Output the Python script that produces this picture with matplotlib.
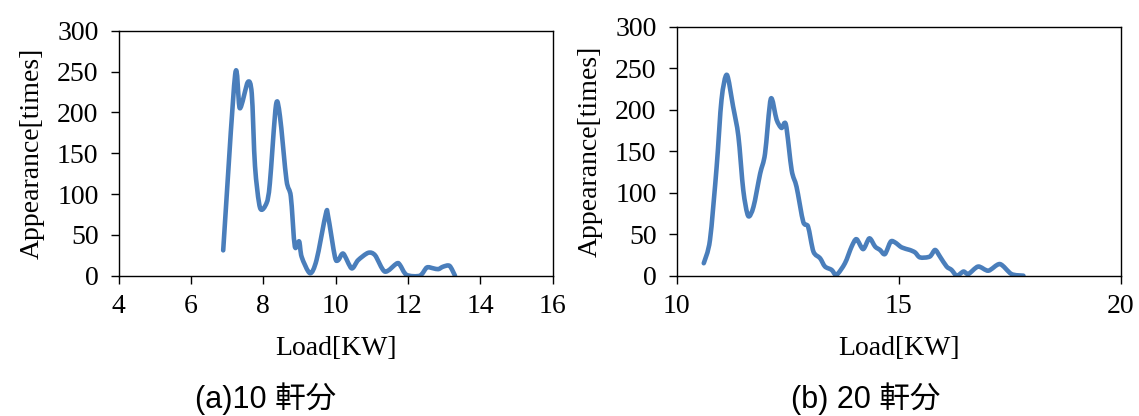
import matplotlib
matplotlib.use("Agg")
import matplotlib.pyplot as plt
import numpy as np
from matplotlib.path import Path
from matplotlib.patches import PathPatch

# Load histogram, 10 households
load_10 = [6.89, 7.22, 7.35, 7.57, 7.68, 7.77, 7.91, 8.09, 8.18, 8.35, 8.46, 8.64,
           8.76, 8.87, 8.99, 9.06, 9.29, 9.47, 9.73, 9.79, 9.98, 10.07, 10.21, 10.44,
           10.62, 10.90, 11.09, 11.36, 11.69, 11.78, 11.96, 12.33, 12.52, 12.70, 12.84,
           12.97, 13.15, 13.30]
count_10 = [31, 246, 205, 237, 223, 134, 83, 89, 113, 209, 195, 117,
            97, 36, 42, 23, 3, 19, 76, 73, 23, 19, 27, 9,
            19, 28, 25, 5, 15, 13, 1, 0, 10, 9, 8,
            11, 12, 0]

# Load histogram, 20 households
load_20 = [10.61, 10.75, 10.90, 11.01, 11.13, 11.27, 11.39, 11.50, 11.61, 11.73, 11.88,
           11.99, 12.12, 12.25, 12.36, 12.46, 12.59, 12.70, 12.85, 12.96, 13.08, 13.23,
           13.34, 13.49, 13.60, 13.79, 13.94, 14.05, 14.20, 14.34, 14.47, 14.58, 14.69,
           14.82, 14.92, 15.07, 15.25, 15.37, 15.48, 15.70, 15.82, 15.93, 16.08, 16.19,
           16.31, 16.46, 16.57, 16.79, 17.02, 17.28, 17.54, 17.81]
count_20 = [15, 43, 131, 212, 242, 204, 168, 103, 72, 83, 123,
            147, 213, 188, 178, 182, 127, 107, 65, 59, 29, 21,
            11, 7, 1, 15, 35, 44, 32, 45, 35, 31, 26,
            41, 40, 34, 31, 28, 22, 23, 31, 23, 11, 7,
            0, 5, 2, 11, 6, 14, 2, 0]

yticks = [0, 50, 100, 150, 200, 250, 300]
xticks_10 = [4, 6, 8, 10, 12, 14, 16]
xticks_20 = [10, 15, 20]
captions = ["(a)10 軒分", "(b) 20 軒分"]

LINE = "#4a7ebb"
SERIF = "Liberation Serif"
FS = 20


def smooth_path(x, y, tension=0.14):
    """Cubic Bezier path through the points (smoothed line)."""
    pts = np.column_stack([x, y]).astype(float)
    verts = [pts[0]]
    codes = [Path.MOVETO]
    n = len(pts)
    for i in range(n - 1):
        p0 = pts[i - 1] if i > 0 else pts[i]
        p1 = pts[i]
        p2 = pts[i + 1]
        p3 = pts[i + 2] if i + 2 < n else pts[i + 1]
        c1 = p1 + (p2 - p0) * tension
        c2 = p2 - (p3 - p1) * tension
        verts += [c1, c2, p2]
        codes += [Path.CURVE4] * 3
    return Path(verts, codes)


fig = plt.figure(figsize=(11.39, 4.16), dpi=100)
ax1 = fig.add_axes([0.1042, 0.3373, 0.3810, 0.5889])
ax2 = fig.add_axes([0.5941, 0.3373, 0.3898, 0.5986])

panels = [
    (ax1, load_10, count_10, xticks_10),
    (ax2, load_20, count_20, xticks_20),
]
for ax, x, y, xt in panels:
    ax.add_patch(PathPatch(smooth_path(x, y), fill=False, edgecolor=LINE,
                           lw=3.3, joinstyle="round", capstyle="round"))
    ax.set_xlim(xt[0], xt[-1])
    ax.set_ylim(0, 300)
    ax.set_xticks(xt)
    ax.set_yticks(yticks)
    for s in ax.spines.values():
        s.set_linewidth(1.0)
        s.set_color("black")
    ax.tick_params(direction="out", length=5.5, width=1.0, color="black")
    ax.tick_params(axis="y", pad=9)
    ax.tick_params(axis="x", pad=8)
    for lab in ax.get_xticklabels() + ax.get_yticklabels():
        lab.set_fontfamily(SERIF)
        lab.set_fontsize(FS)
    ax.set_xlabel("Load[KW]", fontfamily=SERIF, fontsize=FS, labelpad=12)
    ax.set_ylabel("Appearance[times]", fontfamily=SERIF, fontsize=FS, labelpad=9)

cap_family = ["Liberation Sans", "Noto Sans CJK JP"]
fig.text(266 / 1139, 1 - 399 / 416, captions[0], ha="center", va="center",
         fontsize=22, family=cap_family)
fig.text(866 / 1139, 1 - 399 / 416, captions[1], ha="center", va="center",
         fontsize=22, family=cap_family)

fig.savefig("out.png", dpi=100)
